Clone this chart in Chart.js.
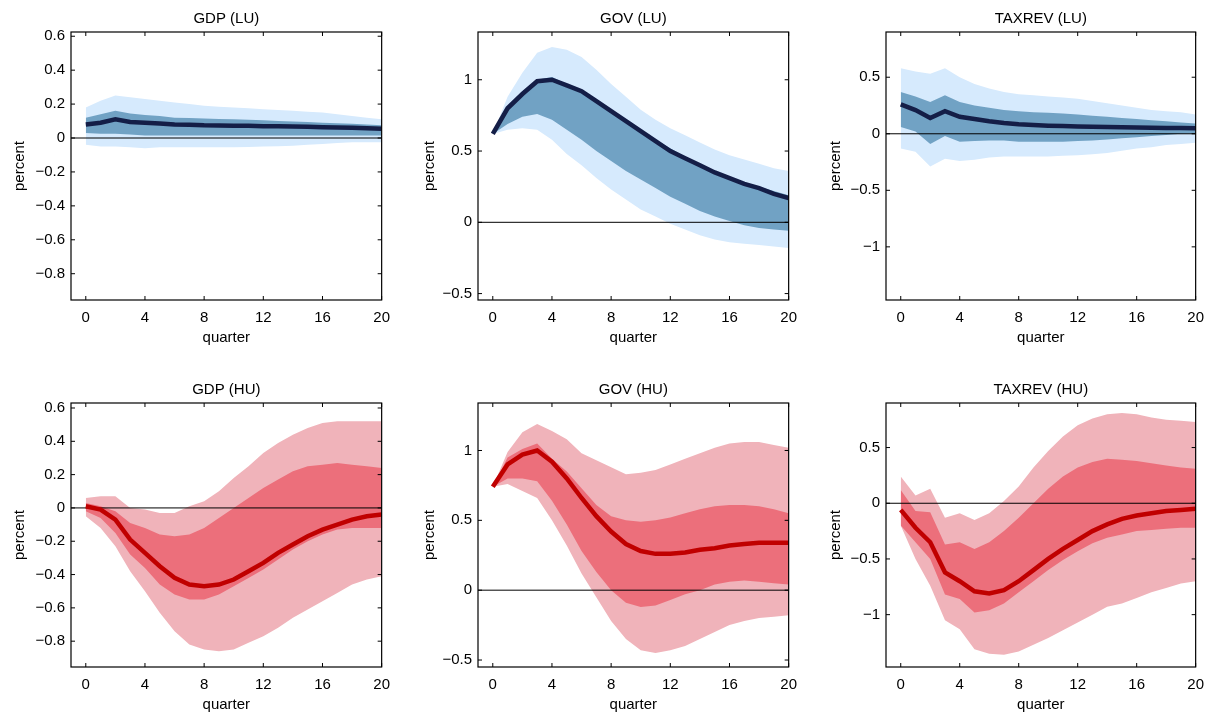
<!DOCTYPE html>
<html><head><meta charset="utf-8">
<script src="https://cdn.jsdelivr.net/npm/chart.js@4"></script>
<style>body{margin:0;background:#fff;width:1216px;height:715px;position:relative;overflow:hidden}canvas{position:absolute}</style>
</head><body>
<canvas id="c0"></canvas><canvas id="c1"></canvas><canvas id="c2"></canvas>
<canvas id="c3"></canvas><canvas id="c4"></canvas><canvas id="c5"></canvas>
<script>
const quarters = [0,1,2,3,4,5,6,7,8,9,10,11,12,13,14,15,16,17,18,19,20];
const xTicks = [0,4,8,12,16,20];
const titles = ["GDP (LU)","GOV (LU)","TAXREV (LU)","GDP (HU)","GOV (HU)","TAXREV (HU)"];
const yTicksGDP = [-0.8,-0.6,-0.4,-0.2,0,0.2,0.4,0.6];
const yTicksGOV = [-0.5,0,0.5,1];
const yTicksTAX = [-1,-0.5,0,0.5];

// GDP (LU)
const gdpLU_med = [0.08,0.09,0.11,0.095,0.09,0.085,0.08,0.078,0.075,0.074,0.073,0.072,0.07,0.069,0.068,0.066,0.064,0.062,0.06,0.057,0.055];
const gdpLU_inHi = [0.12,0.14,0.16,0.145,0.135,0.13,0.12,0.118,0.115,0.112,0.11,0.107,0.104,0.1,0.097,0.094,0.09,0.087,0.084,0.08,0.075];
const gdpLU_inLo = [0.03,0.025,0.025,0.02,0.015,0.015,0.015,0.015,0.015,0.015,0.015,0.015,0.015,0.015,0.015,0.015,0.015,0.015,0.015,0.015,0.015];
const gdpLU_outHi = [0.18,0.22,0.25,0.24,0.23,0.22,0.21,0.2,0.19,0.185,0.18,0.175,0.17,0.165,0.16,0.155,0.15,0.14,0.13,0.12,0.11];
const gdpLU_outLo = [-0.04,-0.05,-0.05,-0.055,-0.06,-0.055,-0.055,-0.055,-0.055,-0.055,-0.055,-0.053,-0.05,-0.048,-0.045,-0.04,-0.035,-0.03,-0.025,-0.025,-0.025];
// GOV (LU)
const govLU_med = [0.62,0.8,0.9,0.99,1.0,0.96,0.92,0.85,0.78,0.71,0.64,0.57,0.5,0.45,0.4,0.35,0.31,0.27,0.24,0.2,0.17];
const govLU_inHi = [0.62,0.81,0.92,1.0,1.02,0.97,0.93,0.86,0.79,0.72,0.65,0.58,0.52,0.46,0.41,0.36,0.32,0.28,0.25,0.22,0.19];
const govLU_inLo = [0.62,0.69,0.74,0.76,0.72,0.65,0.58,0.5,0.43,0.36,0.3,0.24,0.18,0.13,0.08,0.04,0.01,-0.02,-0.04,-0.05,-0.06];
const govLU_outHi = [0.62,0.88,1.05,1.19,1.23,1.21,1.16,1.07,0.97,0.88,0.79,0.72,0.66,0.61,0.56,0.51,0.47,0.44,0.41,0.38,0.36];
const govLU_outLo = [0.62,0.65,0.66,0.65,0.58,0.48,0.4,0.31,0.23,0.16,0.09,0.04,-0.01,-0.05,-0.09,-0.12,-0.14,-0.15,-0.16,-0.17,-0.18];
// TAXREV (LU)
const taxLU_med = [0.26,0.21,0.14,0.2,0.15,0.13,0.11,0.095,0.085,0.078,0.072,0.068,0.065,0.062,0.06,0.058,0.056,0.054,0.052,0.05,0.048];
const taxLU_inHi = [0.37,0.33,0.28,0.34,0.28,0.25,0.23,0.21,0.2,0.19,0.185,0.18,0.17,0.16,0.15,0.14,0.13,0.12,0.11,0.1,0.09];
const taxLU_inLo = [0.06,0.02,-0.09,-0.02,-0.07,-0.065,-0.06,-0.06,-0.07,-0.07,-0.07,-0.07,-0.065,-0.06,-0.05,-0.04,-0.03,-0.02,-0.01,0,0.005];
const taxLU_outHi = [0.58,0.55,0.53,0.58,0.5,0.44,0.4,0.37,0.35,0.34,0.33,0.32,0.31,0.29,0.27,0.25,0.23,0.21,0.2,0.19,0.17];
const taxLU_outLo = [-0.13,-0.16,-0.29,-0.22,-0.24,-0.23,-0.21,-0.2,-0.2,-0.2,-0.2,-0.195,-0.19,-0.18,-0.17,-0.15,-0.13,-0.12,-0.1,-0.09,-0.08];
// GDP (HU)
const gdpHU_med = [0.01,-0.01,-0.07,-0.19,-0.27,-0.35,-0.42,-0.46,-0.47,-0.46,-0.43,-0.38,-0.33,-0.27,-0.22,-0.17,-0.13,-0.1,-0.07,-0.05,-0.04];
const gdpHU_inHi = [0.03,0.01,-0.02,-0.09,-0.12,-0.16,-0.17,-0.16,-0.12,-0.06,0.0,0.06,0.12,0.17,0.22,0.25,0.26,0.27,0.26,0.25,0.24];
const gdpHU_inLo = [-0.02,-0.06,-0.15,-0.28,-0.36,-0.46,-0.52,-0.55,-0.55,-0.52,-0.47,-0.42,-0.37,-0.31,-0.25,-0.2,-0.16,-0.13,-0.12,-0.12,-0.12];
const gdpHU_outHi = [0.06,0.07,0.07,0.0,-0.01,-0.03,-0.03,0.01,0.04,0.1,0.18,0.25,0.33,0.39,0.44,0.48,0.51,0.52,0.52,0.52,0.52];
const gdpHU_outLo = [-0.05,-0.12,-0.23,-0.38,-0.5,-0.63,-0.74,-0.82,-0.85,-0.86,-0.85,-0.81,-0.77,-0.72,-0.66,-0.61,-0.56,-0.51,-0.46,-0.43,-0.41];
// GOV (HU)
const govHU_med = [0.74,0.9,0.97,1.0,0.92,0.8,0.66,0.53,0.42,0.33,0.28,0.26,0.26,0.27,0.29,0.3,0.32,0.33,0.34,0.34,0.34];
const govHU_inHi = [0.74,0.95,1.01,1.05,0.94,0.85,0.73,0.61,0.53,0.5,0.49,0.5,0.52,0.55,0.58,0.6,0.61,0.61,0.6,0.58,0.55];
const govHU_inLo = [0.74,0.8,0.8,0.78,0.64,0.47,0.28,0.13,0.0,-0.09,-0.12,-0.11,-0.07,-0.03,0.0,0.04,0.06,0.07,0.06,0.05,0.04];
const govHU_outHi = [0.74,0.99,1.13,1.19,1.14,1.08,0.98,0.93,0.88,0.83,0.84,0.86,0.9,0.94,0.98,1.02,1.05,1.06,1.06,1.04,1.02];
const govHU_outLo = [0.74,0.76,0.71,0.66,0.5,0.32,0.12,-0.05,-0.22,-0.35,-0.43,-0.45,-0.43,-0.4,-0.35,-0.3,-0.25,-0.22,-0.2,-0.19,-0.18];
// TAXREV (HU)
const taxHU_med = [-0.06,-0.22,-0.35,-0.62,-0.7,-0.79,-0.81,-0.78,-0.7,-0.6,-0.5,-0.41,-0.33,-0.25,-0.19,-0.14,-0.11,-0.09,-0.07,-0.06,-0.05];
const taxHU_inHi = [0.12,-0.07,-0.08,-0.37,-0.35,-0.41,-0.35,-0.25,-0.13,0.0,0.13,0.24,0.32,0.37,0.4,0.39,0.38,0.36,0.34,0.32,0.31];
const taxHU_inLo = [-0.2,-0.35,-0.5,-0.82,-0.86,-0.98,-0.96,-0.9,-0.8,-0.7,-0.6,-0.51,-0.43,-0.36,-0.31,-0.28,-0.25,-0.24,-0.23,-0.22,-0.22];
const taxHU_outHi = [0.24,0.07,0.13,-0.13,-0.09,-0.15,-0.09,0.02,0.15,0.32,0.47,0.6,0.7,0.76,0.8,0.81,0.8,0.77,0.75,0.74,0.73];
const taxHU_outLo = [-0.2,-0.5,-0.74,-1.05,-1.13,-1.31,-1.35,-1.36,-1.33,-1.27,-1.21,-1.14,-1.07,-1.0,-0.93,-0.9,-0.85,-0.8,-0.76,-0.72,-0.7];

const LU = {outer:'#d6eafd', inner:'#71a2c4', line:'#141e47'};
const HU = {outer:'#f0b3ba', inner:'#ec6f7b', line:'#c00000'};

const panels = [
  {s:[gdpLU_med,gdpLU_inHi,gdpLU_inLo,gdpLU_outHi,gdpLU_outLo], c:LU, yt:yTicksGDP, min:-0.955, max:0.625, left:0, top:0, yw:71, w:399, h:350},
  {s:[govLU_med,govLU_inHi,govLU_inLo,govLU_outHi,govLU_outLo], c:LU, yt:yTicksGOV, min:-0.545, max:1.335, left:410, top:0, yw:68, w:396, h:350},
  {s:[taxLU_med,taxLU_inHi,taxLU_inLo,taxLU_outHi,taxLU_outLo], c:LU, yt:yTicksTAX, min:-1.47, max:0.9, left:816, top:0, yw:70, w:397, h:350},
  {s:[gdpHU_med,gdpHU_inHi,gdpHU_inLo,gdpHU_outHi,gdpHU_outLo], c:HU, yt:yTicksGDP, min:-0.955, max:0.63, left:0, top:371, yw:71, w:399, h:346},
  {s:[govHU_med,govHU_inHi,govHU_inLo,govHU_outHi,govHU_outLo], c:HU, yt:yTicksGOV, min:-0.55, max:1.34, left:410, top:371, yw:68, w:396, h:346},
  {s:[taxHU_med,taxHU_inHi,taxHU_inLo,taxHU_outHi,taxHU_outLo], c:HU, yt:yTicksTAX, min:-1.47, max:0.9, left:816, top:371, yw:70, w:397, h:346}
];

const FONT = "'Liberation Sans', Arial, sans-serif";
const pts = arr => quarters.map((q,i)=>({x:q,y:arr[i]}));
const fmt = v => (v<0?'\u2212':'') + String(Math.abs(v));

const boxPlugin = {
  id:'box',
  afterDraw(chart){
    const {ctx, chartArea:a, scales} = chart;
    ctx.save();
    ctx.strokeStyle='#000'; ctx.lineWidth=1.2;
    ctx.strokeRect(a.left, a.top, a.right-a.left, a.bottom-a.top);
    ctx.lineWidth=1;
    scales.x.ticks.forEach(t=>{const x=scales.x.getPixelForValue(t.value);
      ctx.beginPath();ctx.moveTo(x,a.bottom);ctx.lineTo(x,a.bottom-4);ctx.moveTo(x,a.top);ctx.lineTo(x,a.top+4);ctx.stroke();});
    scales.y.ticks.forEach(t=>{const y=scales.y.getPixelForValue(t.value);
      ctx.beginPath();ctx.moveTo(a.left,y);ctx.lineTo(a.left+4,y);ctx.moveTo(a.right,y);ctx.lineTo(a.right-4,y);ctx.stroke();});
    ctx.fillStyle='#000'; ctx.font='15px '+FONT; ctx.textAlign='center'; ctx.textBaseline='middle';
    ctx.fillText(chart.options.plugins.box.title, (a.left+a.right)/2, a.top-13);
    ctx.restore();
  }
};

panels.forEach((p,i)=>{
  const cv = document.getElementById('c'+i);
  cv.style.left=p.left+'px'; cv.style.top=p.top+'px';
  cv.style.width=p.w+'px'; cv.style.height=p.h+'px';
  cv.width=p.w; cv.height=p.h;
  const [med,inHi,inLo,outHi,outLo] = p.s;
  new Chart(cv,{
    type:'line',
    data:{datasets:[
      {data:pts(outHi), borderWidth:0, pointRadius:0, backgroundColor:p.c.outer, fill:'+1', order:5, tension:0},
      {data:pts(outLo), borderWidth:0, pointRadius:0, fill:false, order:4},
      {data:pts(inHi), borderWidth:0, pointRadius:0, backgroundColor:p.c.inner, fill:'+1', order:3, tension:0},
      {data:pts(inLo), borderWidth:0, pointRadius:0, fill:false, order:2},
      {data:[{x:-1,y:0},{x:20,y:0}], borderColor:'#000', borderWidth:1, pointRadius:0, fill:false, order:1},
      {data:pts(med), borderColor:p.c.line, borderWidth:4.5, pointRadius:0, fill:false, order:0, tension:0}
    ]},
    options:{
      responsive:false, animation:false, devicePixelRatio:1,
      layout:{padding:{top:32,right:1,left:0,bottom:0}},
      plugins:{legend:{display:false}, tooltip:{enabled:false}, box:{title:titles[i]}},
      scales:{
        x:{type:'linear', min:-1, max:20,
          afterBuildTicks:s=>{s.ticks=xTicks.map(v=>({value:v}));},
          afterFit:s=>{s.height=50;},
          grid:{display:false, drawTicks:false}, border:{display:false},
          ticks:{color:'#000', font:{family:FONT,size:15}, padding:9, maxRotation:0, autoSkip:false, callback:v=>String(v)},
          title:{display:true, text:'quarter', color:'#000', font:{family:FONT,size:15}, padding:{top:0,bottom:3}}},
        y:{type:'linear', min:p.min, max:p.max,
          afterBuildTicks:s=>{s.ticks=p.yt.map(v=>({value:v}));},
          afterFit:s=>{s.width=p.yw;},
          grid:{display:false, drawTicks:false}, border:{display:false},
          ticks:{color:'#000', font:{family:FONT,size:15}, padding:6, autoSkip:false, callback:v=>fmt(v)},
          title:{display:true, text:'percent', color:'#000', font:{family:FONT,size:15}, padding:{top:11,bottom:0}}}
      }
    },
    plugins:[boxPlugin]
  });
});
</script>
</body></html>
